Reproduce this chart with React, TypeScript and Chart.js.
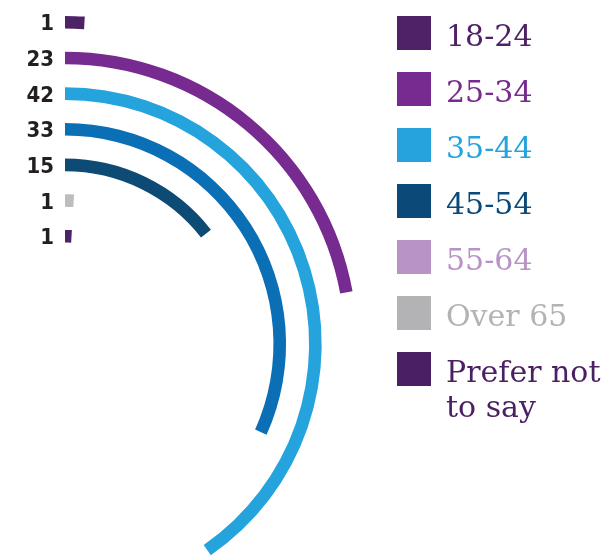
import React, { useEffect, useRef } from 'react';
import { Chart, registerables } from 'chart.js';

Chart.register(...registerables);

// ---- data ----
const ringValues = [1, 23, 42, 33, 15, 1, 1];
const ringColors = ['#4e2266', '#772a8f', '#25a3dd', '#0a6fb5', '#0d4a74', '#bdbdbf', '#4e2266'];
const legendLabels = ['18-24', '25-34', '35-44', '45-54', '55-64', 'Over 65', 'Prefer not to say'];
const legendColors = ['#4f2268', '#772a8f', '#25a3dd', '#0b4a78', '#b894c6', '#b3b3b5', '#4a1f63'];
const FULL_SCALE = 104; // units that make a complete circle

// ---- layout ----
const W = 607;
const H = 557;
const CENTER_X = 65;
const CENTER_Y = 344;
const OUTER_R = 328;
const INNER_R = 101.5;
const RING_THICKNESS = 12.6;
const LEGEND_BOX_X = 397;
const LEGEND_TOP = 16;
const LEGEND_PITCH = 56;
const LEGEND_BOX = 34;
const LEGEND_TEXT_X = 446;

const nRings = ringValues.length;
const GAP_WEIGHT = ((OUTER_R - INNER_R) / RING_THICKNESS - nRings) / (nRings - 1);

const TRANSPARENT = 'rgba(0,0,0,0)';

function buildDatasets() {
  const ds: any[] = [];
  ringValues.forEach((v, i) => {
    if (i > 0) {
      ds.push({
        data: [FULL_SCALE],
        backgroundColor: [TRANSPARENT],
        borderWidth: 0,
        weight: GAP_WEIGHT,
        isSpacer: true,
        clip: false,
      });
    }
    ds.push({
      data: [v, FULL_SCALE - v],
      backgroundColor: [ringColors[i], TRANSPARENT],
      borderWidth: 0,
      weight: 1,
      isSpacer: false,
      clip: false,
    });
  });
  return ds;
}

const textPlugin = {
  id: 'ringText',
  afterDatasetsDraw(chart: any) {
    const ctx = chart.ctx as CanvasRenderingContext2D;
    ctx.save();
    // value labels left of each ring
    ctx.font = 'bold 22px "DejaVu Sans Condensed", "Liberation Sans Narrow", "DejaVu Sans", sans-serif';
    ctx.fillStyle = '#231f20';
    ctx.textAlign = 'right';
    ctx.textBaseline = 'alphabetic';
    chart.data.datasets.forEach((ds: any, di: number) => {
      if (ds.isSpacer) return;
      const arc = chart.getDatasetMeta(di).data[0];
      const p = arc.getProps(['x', 'y', 'innerRadius', 'outerRadius'], true);
      const r = (p.innerRadius + p.outerRadius) / 2;
      ctx.fillText(String(ds.data[0]), p.x - 11, p.y - r + 8);
    });

    // legend
    ctx.textAlign = 'left';
    ctx.font = '30px "DejaVu Serif", serif';
    const maxW = W - LEGEND_TEXT_X - 1;
    legendLabels.forEach((label, i) => {
      const top = LEGEND_TOP + i * LEGEND_PITCH;
      ctx.fillStyle = legendColors[i];
      ctx.fillRect(LEGEND_BOX_X, top, LEGEND_BOX, LEGEND_BOX);
      const words = label.split(' ');
      const lines: string[] = [];
      let cur = '';
      words.forEach((w) => {
        const t = cur ? cur + ' ' + w : w;
        if (cur && ctx.measureText(t).width > maxW) {
          lines.push(cur);
          cur = w;
        } else {
          cur = t;
        }
      });
      if (cur) lines.push(cur);
      lines.forEach((ln, li) => {
        ctx.fillText(ln, LEGEND_TEXT_X, top + 30 + li * 35);
      });
    });
    ctx.restore();
  },
};

export default function App() {
  const ref = useRef<HTMLCanvasElement | null>(null);
  useEffect(() => {
    if (!ref.current) return;
    const chart = new Chart(ref.current, {
      type: 'doughnut',
      data: {
        labels: ['value', 'rest'],
        datasets: buildDatasets(),
      },
      options: {
        responsive: false,
        animation: false,
        radius: OUTER_R,
        cutout: (INNER_R / OUTER_R) * 100 + '%',
        rotation: 0,
        circumference: 360,
        layout: {
          padding: {
            left: 0,
            right: W - 2 * CENTER_X,
            top: 2 * CENTER_Y - H,
            bottom: 0,
          },
        },
        plugins: {
          legend: { display: false },
          tooltip: { enabled: false },
        },
        events: [],
      } as any,
      plugins: [textPlugin],
    });
    return () => chart.destroy();
  }, []);
  return (
    <div style={{ position: 'absolute', left: 0, top: 0, width: W, height: H, background: '#fff' }}>
      <canvas ref={ref} width={W} height={H} style={{ display: 'block' }} />
    </div>
  );
}
